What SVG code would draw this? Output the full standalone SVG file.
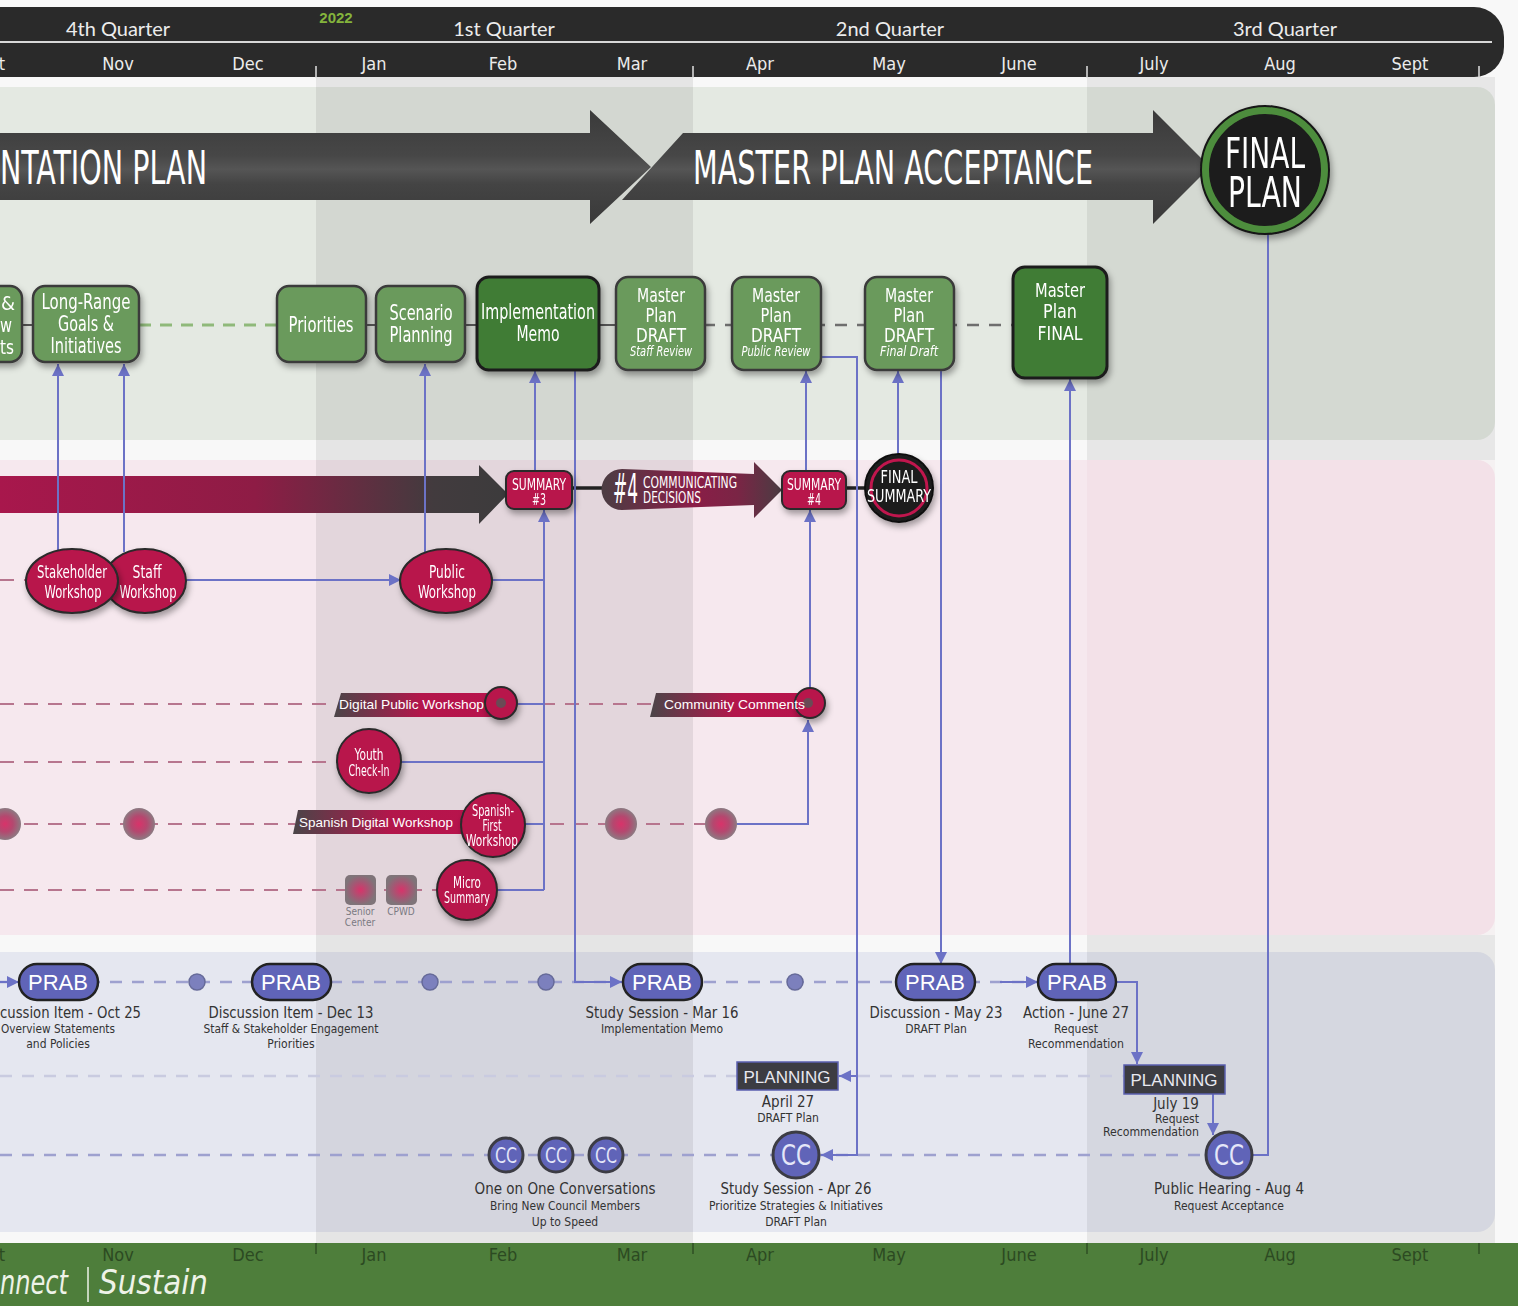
<svg xmlns="http://www.w3.org/2000/svg" width="1518" height="1306" viewBox="0 0 1518 1306">
<defs>
<style>
.nar{font-family:"Liberation Sans Narrow","DejaVu Sans Condensed","Liberation Sans",sans-serif}
.san{font-family:"Liberation Sans","DejaVu Sans",sans-serif}
.mon{font-family:"DejaVu Sans Condensed","Liberation Sans",sans-serif;font-size:18px;fill:#ececec;text-anchor:middle}
.fmon{font-family:"DejaVu Sans Condensed","Liberation Sans",sans-serif;font-size:18px;fill:#2c4a22;text-anchor:middle}
.qtr{font-family:"Lato","Liberation Sans",sans-serif;font-size:20px;fill:#ececec;text-anchor:middle}
.gn{fill:#6b9a5c;stroke:#3a3a3a;stroke-width:2.5}
.gd{fill:#3f7b34;stroke:#1e1e1e;stroke-width:3}
.wt{fill:#fff;text-anchor:middle}
.cn{fill:none;stroke:#6c72c6;stroke-width:2}
.cr{fill:#b8134c;stroke:#2a2a2a;stroke-width:2}
.prab{fill:#6064b8;stroke:#222;stroke-width:2.5}
.cc{fill:#6064b8;stroke:#3c3c44;stroke-width:3}
.pl{fill:#3c3c42;stroke:#5a5fae;stroke-width:1.5}
.lbl{font-family:"DejaVu Sans Condensed","Liberation Sans",sans-serif;fill:#333;text-anchor:middle}
.pd{fill:none;stroke:#b7758e;stroke-width:2;stroke-dasharray:14 10}
.bd{fill:none;stroke:#9ea1cf;stroke-width:2.5;stroke-dasharray:12 10}
.bl{fill:none;stroke:#c9cbe0;stroke-width:2.5;stroke-dasharray:12 10}
.tk{stroke:#e0e0e0;stroke-width:1.5}
.ftk{stroke:#2f4f25;stroke-width:1.5}
</style>
<marker id="ah" viewBox="0 0 10 10" refX="10" refY="5" markerWidth="12" markerHeight="12" markerUnits="userSpaceOnUse" orient="auto"><path d="M0,0 L10,5 L0,10 z" fill="#6c72c6"/></marker>
<linearGradient id="gBig" x1="0" y1="0" x2="0" y2="1"><stop offset="0" stop-color="#3a3a3a"/><stop offset="0.4" stop-color="#474747"/><stop offset="0.52" stop-color="#555"/><stop offset="0.65" stop-color="#444"/><stop offset="1" stop-color="#393939"/></linearGradient>
<linearGradient id="gMar" gradientUnits="userSpaceOnUse" x1="0" y1="0" x2="510" y2="0"><stop offset="0" stop-color="#a8174c"/><stop offset="0.5" stop-color="#8e1c45"/><stop offset="0.85" stop-color="#423b3e"/><stop offset="1" stop-color="#3c3b3c"/></linearGradient>
<linearGradient id="gCom" gradientUnits="userSpaceOnUse" x1="605" y1="0" x2="782" y2="0"><stop offset="0" stop-color="#4d3c43"/><stop offset="0.5" stop-color="#8a1d47"/><stop offset="0.75" stop-color="#7a2545"/><stop offset="1" stop-color="#4a3c42"/></linearGradient>
<linearGradient id="gTag" x1="0" y1="0" x2="1" y2="0"><stop offset="0" stop-color="#4a4548"/><stop offset="0.55" stop-color="#b3164b"/><stop offset="1" stop-color="#b8134c"/></linearGradient>
<radialGradient id="gDot"><stop offset="0" stop-color="#d8336a"/><stop offset="0.5" stop-color="#b4486f"/><stop offset="1" stop-color="#8c7a82"/></radialGradient>
<radialGradient id="gSq"><stop offset="0" stop-color="#d8336a"/><stop offset="0.6" stop-color="#a05a74"/><stop offset="1" stop-color="#7f7479"/></radialGradient>
<filter id="sh" x="-20%" y="-20%" width="150%" height="160%"><feDropShadow dx="2" dy="4" stdDeviation="3" flood-color="#000" flood-opacity="0.35"/></filter>
</defs>

<!-- background & bands -->
<rect x="0" y="0" width="1518" height="1306" fill="#f8f8f8"/>
<rect x="-30" y="87" width="1525" height="353" rx="18" fill="#e4e9e2"/>
<rect x="-30" y="460" width="1525" height="475" rx="18" fill="#f6e8ee"/>
<rect x="-30" y="952" width="1525" height="280" rx="18" fill="#e5e7f0"/>
<rect x="316" y="77" width="377" height="1166" fill="#000" opacity="0.075"/>
<rect x="1087" y="77" width="408" height="383" fill="#000" opacity="0.065"/>
<rect x="1087" y="460" width="408" height="475" fill="#a0304f" opacity="0.035"/>
<rect x="1087" y="935" width="408" height="308" fill="#000" opacity="0.065"/>

<!-- header -->
<g id="header">
<path d="M0,7 H1474 A30,30 0 0 1 1504,37 V47 A30,30 0 0 1 1474,77 H0 Z" fill="#2a2a2a"/>
<line x1="0" y1="42" x2="1492" y2="42" stroke="#d8d8d8" stroke-width="2"/>
<text x="336" y="23" class="san" font-size="15" font-weight="bold" fill="#84b43c" text-anchor="middle">2022</text>
<text x="118" y="36" class="qtr">4th Quarter</text>
<text x="504" y="36" class="qtr">1st Quarter</text>
<text x="890" y="36" class="qtr">2nd Quarter</text>
<text x="1285" y="36" class="qtr">3rd Quarter</text>
<text x="5" y="70" class="mon" style="text-anchor:end">t</text>
<text x="118" y="70" class="mon">Nov</text>
<text x="248" y="70" class="mon">Dec</text>
<text x="374" y="70" class="mon">Jan</text>
<text x="503" y="70" class="mon">Feb</text>
<text x="632" y="70" class="mon">Mar</text>
<text x="760" y="70" class="mon">Apr</text>
<text x="889" y="70" class="mon">May</text>
<text x="1019" y="70" class="mon">June</text>
<text x="1154" y="70" class="mon">July</text>
<text x="1280" y="70" class="mon">Aug</text>
<text x="1410" y="70" class="mon">Sept</text>
<line x1="316" y1="66" x2="316" y2="78" class="tk"/>
<line x1="693" y1="66" x2="693" y2="78" class="tk"/>
<line x1="1087" y1="66" x2="1087" y2="78" class="tk"/>
<line x1="1479" y1="66" x2="1479" y2="78" class="tk"/>
</g>

<!-- footer -->
<g id="footer">
<rect x="0" y="1243" width="1518" height="63" fill="#4e7e3b"/>
<text x="5" y="1261" class="fmon" style="text-anchor:end">t</text>
<text x="118" y="1261" class="fmon">Nov</text>
<text x="248" y="1261" class="fmon">Dec</text>
<text x="374" y="1261" class="fmon">Jan</text>
<text x="503" y="1261" class="fmon">Feb</text>
<text x="632" y="1261" class="fmon">Mar</text>
<text x="760" y="1261" class="fmon">Apr</text>
<text x="889" y="1261" class="fmon">May</text>
<text x="1019" y="1261" class="fmon">June</text>
<text x="1154" y="1261" class="fmon">July</text>
<text x="1280" y="1261" class="fmon">Aug</text>
<text x="1410" y="1261" class="fmon">Sept</text>
<line x1="316" y1="1243" x2="316" y2="1254" class="ftk"/>
<line x1="693" y1="1243" x2="693" y2="1254" class="ftk"/>
<line x1="1087" y1="1243" x2="1087" y2="1254" class="ftk"/>
<line x1="1479" y1="1243" x2="1479" y2="1254" class="ftk"/>
<text x="0" y="1294" class="nar" font-size="34" fill="#eef3e8" font-style="italic" textLength="68" lengthAdjust="spacingAndGlyphs">nnect</text>
<line x1="88" y1="1267" x2="88" y2="1302" stroke="#eef3e8" stroke-width="1.5"/>
<text x="99" y="1294" class="nar" font-size="34" fill="#eef3e8" font-style="italic" textLength="109" lengthAdjust="spacingAndGlyphs">Sustain</text>
</g>

<!-- dashed tracks -->
<g id="tracks">
<line x1="22" y1="325" x2="33" y2="325" stroke="#555" stroke-width="2"/>
<line x1="139" y1="325" x2="277" y2="325" stroke="#8fb97a" stroke-width="3" stroke-dasharray="12 9"/>
<line x1="277" y1="325" x2="617" y2="325" stroke="#555" stroke-width="2"/>
<line x1="703" y1="325" x2="1013" y2="325" stroke="#6e6e6e" stroke-width="2.5" stroke-dasharray="12 10"/>
<line x1="0" y1="580" x2="27" y2="580" class="pd"/>
<line x1="0" y1="704" x2="336" y2="704" class="pd"/>
<line x1="517" y1="704" x2="652" y2="704" class="pd"/>
<line x1="0" y1="762" x2="337" y2="762" class="pd"/>
<line x1="0" y1="824" x2="295" y2="824" class="pd"/>
<line x1="526" y1="824" x2="720" y2="824" class="pd"/>
<line x1="0" y1="890" x2="440" y2="890" class="pd"/>
<line x1="0" y1="982" x2="1037" y2="982" class="bd"/>
<line x1="0" y1="1076" x2="1124" y2="1076" class="bl"/>
<line x1="0" y1="1155" x2="1206" y2="1155" class="bd"/>
</g>

<!-- phase arrows -->
<g id="arrow-master">
<path d="M683,133 L1153,133 L1153,110 L1210,167 L1153,224 L1153,200 L622,200 Z" fill="url(#gBig)"/>
<text x="693" y="184" class="nar" font-size="46" fill="#fff" textLength="400" lengthAdjust="spacingAndGlyphs">MASTER PLAN ACCEPTANCE</text>
</g>
<g id="arrow-implementation">
<path d="M0,133 L590,133 L590,110 L651,167 L590,224 L590,200 L0,200 Z" fill="url(#gBig)"/>
<text x="0" y="184" class="nar" font-size="46" fill="#fff" textLength="207" lengthAdjust="spacingAndGlyphs">NTATION PLAN</text>
</g>
<g id="arrow-engagement">
<path d="M0,476 L479,476 L479,465 L508,494 L479,524 L479,513 L0,513 Z" fill="url(#gMar)"/>
</g>

<!-- connectors -->
<g id="connectors">
<line x1="572" y1="488" x2="606" y2="488" stroke="#222" stroke-width="3.5"/>
<line x1="846" y1="488" x2="866" y2="488" stroke="#222" stroke-width="3.5"/>
<path class="cn" d="M58,552 V364" marker-end="url(#ah)"/>
<path class="cn" d="M124,552 V364" marker-end="url(#ah)"/>
<path class="cn" d="M425,552 V364" marker-end="url(#ah)"/>
<path class="cn" d="M535,472 V371" marker-end="url(#ah)"/>
<path class="cn" d="M575,370 V982 H622" marker-end="url(#ah)"/>
<path class="cn" d="M820,357 H857 V1155 H821" marker-end="url(#ah)"/>
<path class="cn" d="M857,1076 H839" marker-end="url(#ah)"/>
<path class="cn" d="M806,472 V371" marker-end="url(#ah)"/>
<path class="cn" d="M898,454 V371" marker-end="url(#ah)"/>
<path class="cn" d="M941,370 V964" marker-end="url(#ah)"/>
<path class="cn" d="M1070,964 V379" marker-end="url(#ah)"/>
<path class="cn" d="M1268,232 V1155 H1252"/>
<path class="cn" d="M544,890 V510" marker-end="url(#ah)"/>
<path class="cn" d="M492,580 H544"/>
<path class="cn" d="M517,704 H544"/>
<path class="cn" d="M401,762 H544"/>
<path class="cn" d="M525,824 H544"/>
<path class="cn" d="M497,890 H544"/>
<path class="cn" d="M810,688 V510" marker-end="url(#ah)"/>
<path class="cn" d="M737,824 H808 V720" marker-end="url(#ah)"/>
<path class="cn" d="M186,580 H401" marker-end="url(#ah)"/>
<path class="cn" d="M0,982 H19" marker-end="url(#ah)"/>
<path class="cn" d="M1000,982 H1038" marker-end="url(#ah)"/>
<path class="cn" d="M1115,982 H1137 V1064" marker-end="url(#ah)"/>
<path class="cn" d="M1213,1094 V1135" marker-end="url(#ah)"/>
</g>

<!-- green plan nodes -->
<g id="node-vision" filter="url(#sh)">
<rect x="-80" y="286" width="102" height="76" rx="12" class="gn"/>
<text class="nar wt" font-size="20" x="8" y="310">&amp;</text>
<text class="nar wt" font-size="20" x="6" y="332" textLength="12" lengthAdjust="spacingAndGlyphs">w</text>
<text class="nar wt" font-size="20" x="7" y="354" textLength="14" lengthAdjust="spacingAndGlyphs">ts</text>
</g>
<g id="node-longrange" filter="url(#sh)">
<rect x="33" y="286" width="106" height="76" rx="12" class="gn"/>
<text class="nar wt" font-size="21" x="86" y="309" textLength="89" lengthAdjust="spacingAndGlyphs">Long-Range</text>
<text class="nar wt" font-size="21" x="86" y="331" textLength="56" lengthAdjust="spacingAndGlyphs">Goals &amp;</text>
<text class="nar wt" font-size="21" x="86" y="353" textLength="71" lengthAdjust="spacingAndGlyphs">Initiatives</text>
</g>
<g id="node-priorities" filter="url(#sh)">
<rect x="277" y="286" width="89" height="76" rx="12" class="gn"/>
<text class="nar wt" font-size="21" x="321" y="332" textLength="65" lengthAdjust="spacingAndGlyphs">Priorities</text>
</g>
<g id="node-scenario" filter="url(#sh)">
<rect x="376" y="286" width="89" height="76" rx="12" class="gn"/>
<text class="nar wt" font-size="21" x="421" y="320" textLength="63" lengthAdjust="spacingAndGlyphs">Scenario</text>
<text class="nar wt" font-size="21" x="421" y="342" textLength="63" lengthAdjust="spacingAndGlyphs">Planning</text>
</g>
<g id="node-memo" filter="url(#sh)">
<rect x="477" y="277" width="122" height="93" rx="12" class="gd"/>
<text class="nar wt" font-size="21" x="538" y="319" textLength="114" lengthAdjust="spacingAndGlyphs">Implementation</text>
<text class="nar wt" font-size="21" x="538" y="341" textLength="43" lengthAdjust="spacingAndGlyphs">Memo</text>
</g>
<g id="node-draft-staff" filter="url(#sh)">
<rect x="616" y="277" width="89" height="93" rx="12" class="gn"/>
<text class="nar wt" font-size="20" x="661" y="302" textLength="48" lengthAdjust="spacingAndGlyphs">Master</text>
<text class="nar wt" font-size="20" x="661" y="322" textLength="31" lengthAdjust="spacingAndGlyphs">Plan</text>
<text class="nar wt" font-size="20" x="661" y="342" textLength="50" lengthAdjust="spacingAndGlyphs">DRAFT</text>
<text class="nar wt" font-size="14" font-style="italic" x="661" y="356" textLength="62" lengthAdjust="spacingAndGlyphs">Staff Review</text>
</g>
<g id="node-draft-public" filter="url(#sh)">
<rect x="732" y="277" width="89" height="93" rx="12" class="gn"/>
<text class="nar wt" font-size="20" x="776" y="302" textLength="48" lengthAdjust="spacingAndGlyphs">Master</text>
<text class="nar wt" font-size="20" x="776" y="322" textLength="31" lengthAdjust="spacingAndGlyphs">Plan</text>
<text class="nar wt" font-size="20" x="776" y="342" textLength="50" lengthAdjust="spacingAndGlyphs">DRAFT</text>
<text class="nar wt" font-size="14" font-style="italic" x="776" y="356" textLength="69" lengthAdjust="spacingAndGlyphs">Public Review</text>
</g>
<g id="node-draft-final" filter="url(#sh)">
<rect x="865" y="277" width="89" height="93" rx="12" class="gn"/>
<text class="nar wt" font-size="20" x="909" y="302" textLength="48" lengthAdjust="spacingAndGlyphs">Master</text>
<text class="nar wt" font-size="20" x="909" y="322" textLength="31" lengthAdjust="spacingAndGlyphs">Plan</text>
<text class="nar wt" font-size="20" x="909" y="342" textLength="50" lengthAdjust="spacingAndGlyphs">DRAFT</text>
<text class="nar wt" font-size="14" font-style="italic" x="909" y="356" textLength="58" lengthAdjust="spacingAndGlyphs">Final Draft</text>
</g>
<g id="node-final" filter="url(#sh)">
<rect x="1013" y="267" width="94" height="111" rx="12" class="gd"/>
<text class="nar wt" font-size="20" x="1060" y="297" textLength="50" lengthAdjust="spacingAndGlyphs">Master</text>
<text class="nar wt" font-size="20" x="1060" y="318" textLength="34" lengthAdjust="spacingAndGlyphs">Plan</text>
<text class="nar wt" font-size="20" x="1060" y="340" textLength="45" lengthAdjust="spacingAndGlyphs">FINAL</text>
</g>
<g id="node-final-plan" filter="url(#sh)">
<circle cx="1265" cy="170" r="60" fill="#1c1c1c" stroke="#4d8d3c" stroke-width="8"/>
<circle cx="1265" cy="170" r="64" fill="none" stroke="#151515" stroke-width="2"/>
<text class="nar wt" font-size="42" x="1265" y="168" textLength="80" lengthAdjust="spacingAndGlyphs">FINAL</text>
<text class="nar wt" font-size="42" x="1265" y="207" textLength="74" lengthAdjust="spacingAndGlyphs">PLAN</text>
</g>

<!-- engagement row -->
<g id="node-summary3" filter="url(#sh)">
<rect x="506" y="471" width="66" height="38" rx="8" class="cr"/>
<text class="nar wt" font-size="15" x="539" y="490" textLength="54" lengthAdjust="spacingAndGlyphs">SUMMARY</text>
<text class="nar wt" font-size="15" x="539" y="505" textLength="14" lengthAdjust="spacingAndGlyphs">#3</text>
</g>
<g id="node-communicating">
<path d="M622,469 L754,474 L754,462 L782,490 L754,518 L754,505 L622,510 A20.5,20.5 0 0 1 622,469 Z" fill="url(#gCom)"/>
<text class="nar" fill="#fff" font-size="40" x="613" y="503" textLength="25" lengthAdjust="spacingAndGlyphs">#4</text>
<text class="nar" fill="#fff" font-size="16" x="643" y="488" textLength="94" lengthAdjust="spacingAndGlyphs">COMMUNICATING</text>
<text class="nar" fill="#fff" font-size="16" x="643" y="503" textLength="58" lengthAdjust="spacingAndGlyphs">DECISIONS</text>
</g>
<g id="node-summary4" filter="url(#sh)">
<rect x="782" y="471" width="64" height="38" rx="8" class="cr"/>
<text class="nar wt" font-size="15" x="814" y="490" textLength="54" lengthAdjust="spacingAndGlyphs">SUMMARY</text>
<text class="nar wt" font-size="15" x="814" y="505" textLength="14" lengthAdjust="spacingAndGlyphs">#4</text>
</g>
<g id="node-final-summary" filter="url(#sh)">
<circle cx="899" cy="488" r="34" fill="#1d1d1d" stroke="#111" stroke-width="2"/>
<circle cx="899" cy="488" r="28" fill="none" stroke="#c0164e" stroke-width="3"/>
<text class="nar wt" font-size="18" x="899" y="483" textLength="37" lengthAdjust="spacingAndGlyphs">FINAL</text>
<text class="nar wt" font-size="18" x="899" y="502" textLength="64" lengthAdjust="spacingAndGlyphs">SUMMARY</text>
</g>
<g id="node-staff-workshop" filter="url(#sh)">
<ellipse cx="145" cy="581" rx="41" ry="32" class="cr"/>
<text class="nar wt" font-size="18" x="147" y="578" textLength="29" lengthAdjust="spacingAndGlyphs">Staff</text>
<text class="nar wt" font-size="18" x="148" y="598" textLength="57" lengthAdjust="spacingAndGlyphs">Workshop</text>
</g>
<g id="node-stakeholder-workshop" filter="url(#sh)">
<ellipse cx="72" cy="581" rx="46" ry="32" class="cr"/>
<text class="nar wt" font-size="18" x="72" y="578" textLength="70" lengthAdjust="spacingAndGlyphs">Stakeholder</text>
<text class="nar wt" font-size="18" x="73" y="598" textLength="57" lengthAdjust="spacingAndGlyphs">Workshop</text>
</g>
<g id="node-public-workshop" filter="url(#sh)">
<ellipse cx="446" cy="581" rx="46" ry="32" class="cr"/>
<text class="nar wt" font-size="18" x="447" y="578" textLength="36" lengthAdjust="spacingAndGlyphs">Public</text>
<text class="nar wt" font-size="18" x="447" y="598" textLength="58" lengthAdjust="spacingAndGlyphs">Workshop</text>
</g>
<g id="node-digital-public">
<path d="M341,693 L492,693 L492,717 L334,717 Z" fill="url(#gTag)"/>
<circle cx="501" cy="703" r="16" class="cr" filter="url(#sh)"/>
<circle cx="501" cy="703" r="5" fill="#6a4a55"/>
<text class="san" fill="#fff" font-size="13" x="339" y="709" textLength="145" lengthAdjust="spacingAndGlyphs">Digital Public Workshop</text>
</g>
<g id="node-community-comments">
<path d="M656,693 L803,693 L803,717 L650,717 Z" fill="url(#gTag)"/>
<circle cx="810" cy="703" r="15" class="cr" filter="url(#sh)"/>
<circle cx="808" cy="703" r="5" fill="#6a4a55"/>
<text class="san" fill="#fff" font-size="13" x="664" y="709" textLength="141" lengthAdjust="spacingAndGlyphs">Community Comments</text>
</g>
<g id="node-youth" filter="url(#sh)">
<circle cx="369" cy="761" r="32" class="cr"/>
<text class="nar wt" font-size="16" x="369" y="760" textLength="29" lengthAdjust="spacingAndGlyphs">Youth</text>
<text class="nar wt" font-size="16" x="369" y="776" textLength="41" lengthAdjust="spacingAndGlyphs">Check-In</text>
</g>
<g id="node-spanish-digital">
<path d="M298,810 L470,810 L470,834 L293,834 Z" fill="url(#gTag)"/>
<text class="san" fill="#fff" font-size="13" x="299" y="827" textLength="154" lengthAdjust="spacingAndGlyphs">Spanish Digital Workshop</text>
</g>
<g id="node-spanish-first" filter="url(#sh)">
<circle cx="493" cy="825" r="32" class="cr"/>
<text class="nar wt" font-size="15" x="493" y="816" textLength="42" lengthAdjust="spacingAndGlyphs">Spanish-</text>
<text class="nar wt" font-size="15" x="492" y="831" textLength="19" lengthAdjust="spacingAndGlyphs">First</text>
<text class="nar wt" font-size="15" x="492" y="846" textLength="52" lengthAdjust="spacingAndGlyphs">Workshop</text>
</g>
<g id="node-micro-summary" filter="url(#sh)">
<circle cx="467" cy="890" r="30" class="cr"/>
<text class="nar wt" font-size="15" x="467" y="888" textLength="28" lengthAdjust="spacingAndGlyphs">Micro</text>
<text class="nar wt" font-size="15" x="467" y="903" textLength="46" lengthAdjust="spacingAndGlyphs">Summary</text>
</g>
<g id="node-senior-center">
<rect x="345" y="875" width="31" height="30" rx="5" fill="url(#gSq)"/>
<text class="nar" font-size="10" fill="#7a7a82" text-anchor="middle" x="360" y="915">Senior</text>
<text class="nar" font-size="10" fill="#7a7a82" text-anchor="middle" x="360" y="926">Center</text>
</g>
<g id="node-cpwd">
<rect x="386" y="875" width="31" height="30" rx="5" fill="url(#gSq)"/>
<text class="nar" font-size="10" fill="#7a7a82" text-anchor="middle" x="401" y="915">CPWD</text>
</g>
<g id="dots-pink">
<circle cx="5" cy="824" r="16" fill="url(#gDot)"/>
<circle cx="139" cy="824" r="16" fill="url(#gDot)"/>
<circle cx="621" cy="824" r="16" fill="url(#gDot)"/>
<circle cx="721" cy="824" r="16" fill="url(#gDot)"/>
</g>

<!-- council / board row -->
<g id="dots-blue">
<circle cx="197" cy="982" r="8" fill="#7c80bd" stroke="#666a99" stroke-width="1.5"/>
<circle cx="430" cy="982" r="8" fill="#7c80bd" stroke="#666a99" stroke-width="1.5"/>
<circle cx="546" cy="982" r="8" fill="#7c80bd" stroke="#666a99" stroke-width="1.5"/>
<circle cx="795" cy="982" r="8" fill="#7c80bd" stroke="#666a99" stroke-width="1.5"/>
</g>
<g id="node-prab-oct25">
<rect x="19" y="964" width="79" height="36" rx="18" class="prab"/>
<text class="san wt" font-size="22" x="58" y="990">PRAB</text>
<text class="lbl" font-size="15" x="0" y="1018" style="text-anchor:start" textLength="141" lengthAdjust="spacingAndGlyphs">cussion Item - Oct 25</text>
<text class="lbl" font-size="12" x="1" y="1033" style="text-anchor:start" textLength="114" lengthAdjust="spacingAndGlyphs">Overview Statements</text>
<text class="lbl" font-size="12" x="58" y="1048">and Policies</text>
</g>
<g id="node-prab-dec13">
<rect x="252" y="964" width="79" height="36" rx="18" class="prab"/>
<text class="san wt" font-size="22" x="291" y="990">PRAB</text>
<text class="lbl" font-size="15" x="291" y="1018" textLength="165" lengthAdjust="spacingAndGlyphs">Discussion Item - Dec 13</text>
<text class="lbl" font-size="12" x="291" y="1033" textLength="175" lengthAdjust="spacingAndGlyphs">Staff &amp; Stakeholder Engagement</text>
<text class="lbl" font-size="12" x="291" y="1048">Priorities</text>
</g>
<g id="node-prab-mar16">
<rect x="623" y="964" width="79" height="36" rx="18" class="prab"/>
<text class="san wt" font-size="22" x="662" y="990">PRAB</text>
<text class="lbl" font-size="15" x="662" y="1018" textLength="153" lengthAdjust="spacingAndGlyphs">Study Session - Mar 16</text>
<text class="lbl" font-size="12" x="662" y="1033">Implementation Memo</text>
</g>
<g id="node-prab-may23">
<rect x="896" y="964" width="79" height="36" rx="18" class="prab"/>
<text class="san wt" font-size="22" x="935" y="990">PRAB</text>
<text class="lbl" font-size="15" x="936" y="1018" textLength="133" lengthAdjust="spacingAndGlyphs">Discussion - May 23</text>
<text class="lbl" font-size="12" x="936" y="1033">DRAFT Plan</text>
</g>
<g id="node-prab-jun27">
<rect x="1038" y="964" width="78" height="36" rx="18" class="prab"/>
<text class="san wt" font-size="22" x="1077" y="990">PRAB</text>
<text class="lbl" font-size="15" x="1076" y="1018" textLength="106" lengthAdjust="spacingAndGlyphs">Action - June 27</text>
<text class="lbl" font-size="12" x="1076" y="1033">Request</text>
<text class="lbl" font-size="12" x="1076" y="1048" textLength="96" lengthAdjust="spacingAndGlyphs">Recommendation</text>
</g>
<g id="node-planning-apr27">
<rect x="737" y="1062" width="101" height="28" class="pl"/>
<text class="san" fill="#e8e8f0" text-anchor="middle" font-size="17" x="787" y="1083">PLANNING</text>
<text class="lbl" font-size="15" x="788" y="1107">April 27</text>
<text class="lbl" font-size="12" x="788" y="1122">DRAFT Plan</text>
</g>
<g id="node-planning-jul19">
<rect x="1124" y="1065" width="101" height="29" class="pl"/>
<text class="san" fill="#e8e8f0" text-anchor="middle" font-size="17" x="1174" y="1086">PLANNING</text>
<text class="lbl" font-size="15" x="1176" y="1109">July 19</text>
<text class="lbl" font-size="12" x="1177" y="1123">Request</text>
<text class="lbl" font-size="12" x="1151" y="1136" textLength="96" lengthAdjust="spacingAndGlyphs">Recommendation</text>
</g>
<g id="node-cc-oneonone">
<circle cx="506" cy="1155" r="17" class="cc"/>
<circle cx="556" cy="1155" r="17" class="cc"/>
<circle cx="606" cy="1155" r="17" class="cc"/>
<text class="nar" fill="#e4e6f8" text-anchor="middle" font-size="22" x="506" y="1163" textLength="22" lengthAdjust="spacingAndGlyphs">CC</text>
<text class="nar" fill="#e4e6f8" text-anchor="middle" font-size="22" x="556" y="1163" textLength="22" lengthAdjust="spacingAndGlyphs">CC</text>
<text class="nar" fill="#e4e6f8" text-anchor="middle" font-size="22" x="606" y="1163" textLength="22" lengthAdjust="spacingAndGlyphs">CC</text>
<text class="lbl" font-size="15" x="565" y="1194" textLength="181" lengthAdjust="spacingAndGlyphs">One on One Conversations</text>
<text class="lbl" font-size="12" x="565" y="1210" textLength="150" lengthAdjust="spacingAndGlyphs">Bring New Council Members</text>
<text class="lbl" font-size="12" x="565" y="1226">Up to Speed</text>
</g>
<g id="node-cc-apr26">
<circle cx="796" cy="1155" r="23" class="cc"/>
<text class="nar" fill="#e4e6f8" text-anchor="middle" font-size="28" x="796" y="1165" textLength="30" lengthAdjust="spacingAndGlyphs">CC</text>
<text class="lbl" font-size="15" x="796" y="1194" textLength="151" lengthAdjust="spacingAndGlyphs">Study Session - Apr 26</text>
<text class="lbl" font-size="12" x="796" y="1210" textLength="174" lengthAdjust="spacingAndGlyphs">Prioritize Strategies  &amp; Initiatives</text>
<text class="lbl" font-size="12" x="796" y="1226">DRAFT Plan</text>
</g>
<g id="node-cc-aug4">
<circle cx="1229" cy="1155" r="23" class="cc"/>
<text class="nar" fill="#e4e6f8" text-anchor="middle" font-size="28" x="1229" y="1165" textLength="30" lengthAdjust="spacingAndGlyphs">CC</text>
<text class="lbl" font-size="15" x="1229" y="1194" textLength="150" lengthAdjust="spacingAndGlyphs">Public Hearing - Aug 4</text>
<text class="lbl" font-size="12" x="1229" y="1210">Request Acceptance</text>
</g>
</svg>
